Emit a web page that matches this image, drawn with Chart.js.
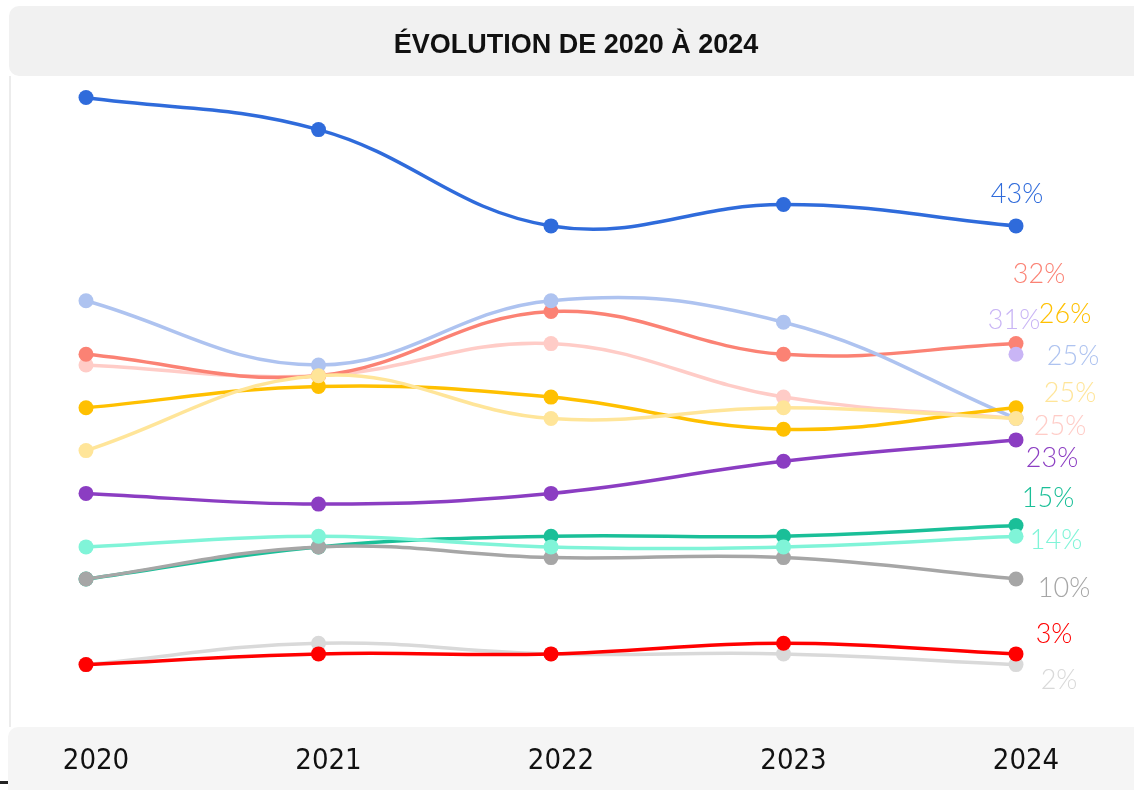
<!DOCTYPE html>
<html>
<head>
  <title>Évolution de 2020 à 2024</title>
  <script src="https://cdn.jsdelivr.net/npm/chart.js"></script>
  <style>
    body {
      margin: 0;
      background-color: #fff;
    }
    canvas {
      display: block;
    }
  </style>
</head>
<body>
  <canvas id="evolutionChart" width="1134" height="790"></canvas>

  <script>
    const years = ['2020', '2021', '2022', '2023', '2024'];

    // yearly shares in %, one array per series
    const blueSeries       = [55, 52, 43, 45, 43];
    const lavenderSeries   = [null, null, null, null, 31];
    const paleYellowSeries = [22, 29, 25, 26, 25];
    const goldSeries       = [26, 28, 27, 24, 26];
    const paleBlueSeries   = [36, 30, 36, 34, 25];
    const salmonSeries     = [31, 29, 35, 31, 32];
    const pinkSeries       = [30, 29, 32, 27, 25];
    const purpleSeries     = [18, 17, 18, 21, 23];
    const aquaSeries       = [13, 14, 13, 13, 14];
    const greySeries       = [10, 13, 12, 12, 10];
    const tealSeries       = [10, 13, 14, 14, 15];
    const redSeries        = [2, 3, 3, 4, 3];
    const paleGreySeries   = [2, 4, 3, 3, 2];

    // first entry is drawn on top; shift = end label offset from the last point
    const series = [
      { data: blueSeries,       color: '#2f6bdb', shift: [1, -23] },
      { data: lavenderSeries,   color: '#c9b5f5', shift: [-2, -25] },
      { data: paleYellowSeries, color: '#ffe599', shift: [54, -17] },
      { data: goldSeries,       color: '#ffc000', shift: [49, -85] },
      { data: paleBlueSeries,   color: '#aec3f0', shift: [57, -54] },
      { data: salmonSeries,     color: '#fb8274', shift: [23, -61] },
      { data: pinkSeries,       color: '#ffccc7', shift: [44, 16] },
      { data: purpleSeries,     color: '#8b3dc2', shift: [36, 27] },
      { data: aquaSeries,       color: '#80f4d8', shift: [40, 13] },
      { data: greySeries,       color: '#a6a6a6', shift: [48, 18] },
      { data: tealSeries,       color: '#1abf98', shift: [32, -19] },
      { data: redSeries,        color: '#ff0000', shift: [38, -11] },
      { data: paleGreySeries,   color: '#d9d9d9', shift: [43, 24] }
    ];

    function roundRect(ctx, x, y, w, h, r, fill) {
      ctx.beginPath();
      ctx.roundRect(x, y, w, h, r);
      ctx.fillStyle = fill;
      ctx.fill();
    }

    // header band, footer band behind the year labels, left rule and title
    const frame = {
      id: 'frame',
      beforeDraw(chart) {
        const ctx = chart.ctx;
        ctx.save();
        roundRect(ctx, 9, 6, 1140, 70, 10, '#f1f1f1');
        roundRect(ctx, 8, 727, 1140, 80, 10, '#f5f5f5');
        ctx.fillStyle = '#ececec';
        ctx.fillRect(9, 76, 2, 651);
        ctx.fillStyle = '#222';
        ctx.fillRect(0, 781, 8, 3);

        ctx.fillStyle = '#111';
        ctx.font = 'bold 27px "Liberation Sans", Arial, sans-serif';
        ctx.textAlign = 'center';
        ctx.textBaseline = 'alphabetic';
        ctx.fillText('ÉVOLUTION DE 2020 À 2024', 576, 53);
        ctx.restore();
      }
    };

    // value label next to the last point of each line
    const endLabels = {
      id: 'endLabels',
      afterDatasetsDraw(chart) {
        const ctx = chart.ctx;
        ctx.save();
        ctx.font = '300 27px Lato, "Open Sans", sans-serif';
        ctx.textAlign = 'center';
        ctx.textBaseline = 'alphabetic';
        chart.data.datasets.forEach((ds, i) => {
          const last = ds.data.length - 1;
          const pt = chart.getDatasetMeta(i).data[last];
          if (!pt || ds.data[last] == null) return;
          ctx.fillStyle = ds.borderColor;
          ctx.fillText(ds.data[last] + '%', pt.x + ds.labelShift[0], pt.y + ds.labelShift[1]);
        });
        ctx.restore();
      }
    };

    const ctx = document.getElementById('evolutionChart').getContext('2d');
    new Chart(ctx, {
      type: 'line',
      data: {
        labels: years,
        datasets: series.map(s => ({
          data: s.data,
          borderColor: s.color,
          backgroundColor: s.color,
          pointBackgroundColor: s.color,
          pointBorderColor: s.color,
          borderWidth: 3.5,
          pointRadius: 7.5,
          pointBorderWidth: 0,
          tension: 0.4,
          fill: false,
          clip: false,
          labelShift: s.shift
        }))
      },
      options: {
        responsive: false,
        animation: false,
        layout: {
          padding: { left: 86, right: 118, top: 44, bottom: 0 }
        },
        scales: {
          x: {
            grid: { display: false, drawTicks: false },
            border: { display: false },
            afterFit(scale) {
              scale.height = 104;
              scale.paddingLeft = 0;
              scale.paddingRight = 0;
            },
            ticks: {
              color: '#111',
              padding: 58,
              labelOffset: 10,
              font: { family: '"DejaVu Sans Condensed", sans-serif', size: 29 }
            }
          },
          y: {
            display: false,
            min: 0,
            max: 60
          }
        },
        plugins: {
          legend: { display: false },
          tooltip: { enabled: false }
        }
      },
      plugins: [frame, endLabels]
    });
  </script>
</body>
</html>
